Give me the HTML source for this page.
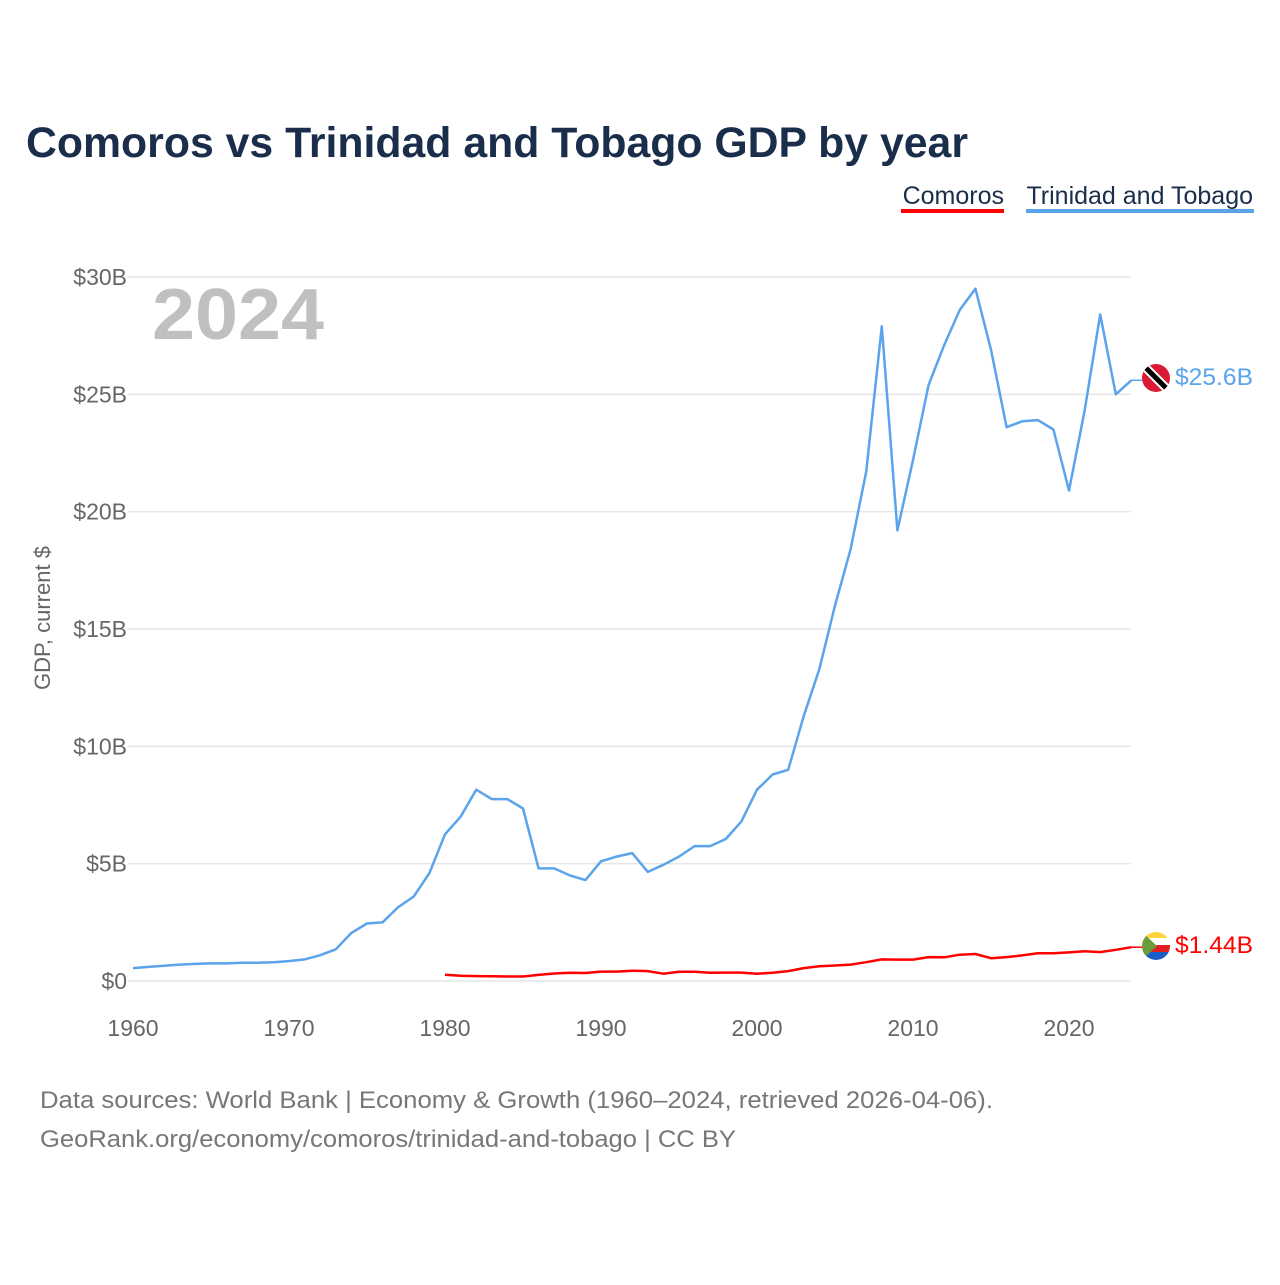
<!DOCTYPE html>
<html><head><meta charset="utf-8"><style>
body{margin:0;background:#fff;font-family:"Liberation Sans",sans-serif;}
svg text{font-family:"Liberation Sans",sans-serif;}
</style></head><body>
<svg id="chart" width="1280" height="1280" viewBox="0 0 1280 1280">
<text x="26" y="157" font-size="43" font-weight="bold" fill="#1a2e4c" textLength="942" lengthAdjust="spacingAndGlyphs">Comoros vs Trinidad and Tobago GDP by year</text>
<g><text x="1004" y="204" font-size="25" fill="#1a2e4c" text-anchor="end">Comoros</text><rect x="901" y="209" width="103" height="4" fill="#ff0000"/></g>
<g><text x="1253" y="204" font-size="25" fill="#1a2e4c" text-anchor="end">Trinidad and Tobago</text><rect x="1026" y="209" width="228" height="4" fill="#5ba4ec"/></g>
<text x="152" y="339" font-size="72" font-weight="bold" fill="#c0c0c0" textLength="172" lengthAdjust="spacingAndGlyphs">2024</text>
<text transform="translate(50,618) rotate(-90)" font-size="22" fill="#666" text-anchor="middle">GDP, current $</text>
<g id="grid"></g><g id="xt"></g><g id="lines"></g>
<g>
<clipPath id="c1"><circle cx="1156" cy="378" r="14"/></clipPath>
<g clip-path="url(#c1)"><rect x="1140" y="362" width="32" height="32" fill="#da1a35"/><line x1="1140" y1="362" x2="1172" y2="394" stroke="#fff" stroke-width="9"/><line x1="1140" y1="362" x2="1172" y2="394" stroke="#000" stroke-width="5"/></g></g>
<g>
<clipPath id="c2"><circle cx="1156" cy="946" r="14"/></clipPath>
<g clip-path="url(#c2)"><rect x="1140" y="930" width="32" height="8" fill="#ffd43b"/><rect x="1140" y="938" width="32" height="7" fill="#fff"/><rect x="1140" y="945" width="32" height="7" fill="#e02020"/><rect x="1140" y="952" width="32" height="10" fill="#1a5cc8"/><polygon points="1140,930 1157,946 1140,962" fill="#6a9e3c"/></g></g>
<text x="1175" y="385" font-size="24" fill="#5ba4ec" textLength="78" lengthAdjust="spacingAndGlyphs">$25.6B</text>
<text x="1175" y="953" font-size="24" fill="#ff0000" textLength="78" lengthAdjust="spacingAndGlyphs">$1.44B</text>
<text x="40" y="1108" font-size="24" fill="#777" textLength="953" lengthAdjust="spacingAndGlyphs">Data sources: World Bank | Economy &amp; Growth (1960–2024, retrieved 2026-04-06).</text>
<text x="40" y="1147" font-size="24" fill="#777" textLength="696" lengthAdjust="spacingAndGlyphs">GeoRank.org/economy/comoros/trinidad-and-tobago | CC BY</text>
</svg>
<script>
const yTicks=[0,5,10,15,20,25,30];
const yTickLabels=["$0","$5B","$10B","$15B","$20B","$25B","$30B"];
const xTicks=[1960,1970,1980,1990,2000,2010,2020];
const ttStart=1960;
const ttValues=[0.55,0.6,0.65,0.7,0.73,0.75,0.75,0.78,0.78,0.8,0.85,0.92,1.1,1.35,2.05,2.45,2.5,3.15,3.6,4.6,6.25,7.0,8.15,7.75,7.75,7.35,4.8,4.8,4.5,4.3,5.1,5.3,5.45,4.65,4.95,5.3,5.75,5.75,6.05,6.8,8.15,8.8,9.0,11.3,13.3,16.0,18.4,21.7,27.9,19.2,22.2,25.4,27.1,28.6,29.5,26.9,23.6,23.85,23.9,23.5,20.9,24.3,28.4,25.0,25.6];
const kmStart=1980;
const kmValues=[0.27,0.22,0.21,0.2,0.19,0.19,0.26,0.32,0.35,0.34,0.4,0.4,0.44,0.42,0.31,0.39,0.39,0.35,0.36,0.36,0.31,0.35,0.42,0.55,0.63,0.66,0.7,0.8,0.92,0.91,0.91,1.02,1.01,1.12,1.15,0.97,1.02,1.09,1.18,1.18,1.22,1.27,1.23,1.33,1.44];
const X=y=>133+(y-1960)*15.6;
const Y=v=>981-v*(704/30);
const NS="http://www.w3.org/2000/svg";
function mk(t,a,p){const e=document.createElementNS(NS,t);for(const k in a)e.setAttribute(k,a[k]);p.appendChild(e);return e;}
const grid=document.getElementById('grid');
yTicks.forEach((v,i)=>{
 const l=mk('line',{x1:128,x2:1131,y1:Y(v),y2:Y(v),stroke:'#e6e6e6','stroke-width':1.5},grid);
 
 
 const t=mk('text',{x:127,y:Y(v)+8,'font-size':23,fill:'#666','text-anchor':'end'},grid);
 t.textContent=yTickLabels[i];
 
 
});
const xt=document.getElementById('xt');
xTicks.forEach(v=>{
 const t=mk('text',{x:X(v),y:1036,'font-size':23,fill:'#666','text-anchor':'middle'},xt);
 t.textContent=v;
 
 
});
const lines=document.getElementById('lines');
function series(vals,start,col,name){
 const pts=vals.map((v,i)=>X(start+i).toFixed(1)+','+Y(v).toFixed(1)).join(' ');
 const p=mk('polyline',{points:pts,fill:'none',stroke:col,'stroke-width':2.5,'stroke-linejoin':'round'},lines);
 
 
 const lv=vals[vals.length-1];
 mk('line',{x1:X(start+vals.length-1),y1:Y(lv),x2:1142,y2:Y(lv),stroke:col,'stroke-width':1.5},lines);
}
series(ttValues,ttStart,'#5ba4ec','trinidad-line');
series(kmValues,kmStart,'#ff0000','comoros-line');
</script>
</body></html>
